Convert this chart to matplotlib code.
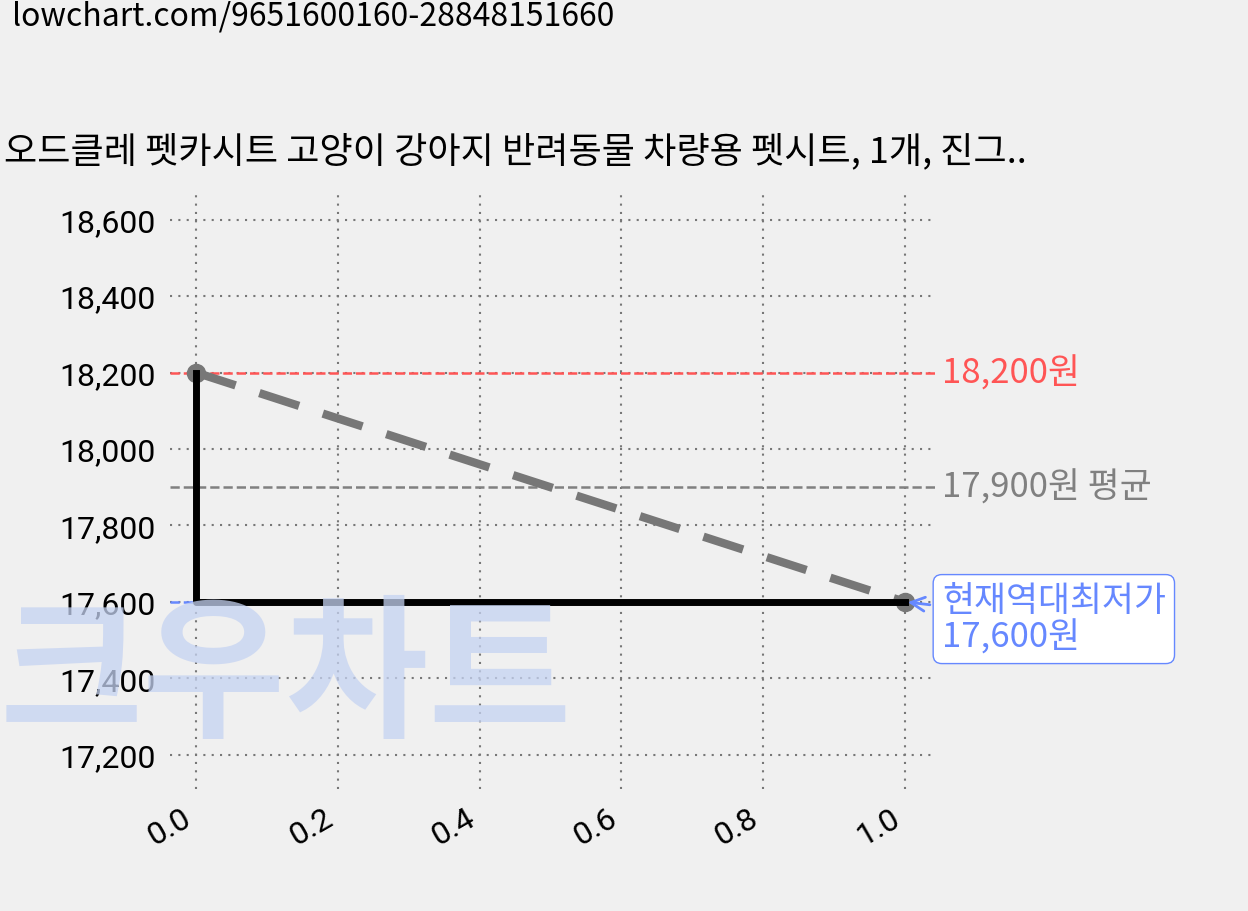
import matplotlib
matplotlib.use("Agg")
import matplotlib.pyplot as plt

plt.rcParams['font.family'] = ['Noto Sans CJK KR', 'DejaVu Sans']

# data
x_vals = [0.0, 1.0]
prices = [18200, 17600]
max_price = 18200
avg_price = 17900
min_price = 17600
title = "오드클레 펫카시트 고양이 강아지 반려동물 차량용 펫시트, 1개, 진그.."
url = "lowchart.com/9651600160-28848151660"
yticks = [17200, 17400, 17600, 17800, 18000, 18200, 18400, 18600]
xticks = [0.0, 0.2, 0.4, 0.6, 0.8, 1.0]

bg = '#f0f0f0'
fig = plt.figure(figsize=(12.48, 9.12), dpi=100, facecolor=bg)

# watermark behind the axes
fig.text(0.0, 0.255, "크우차트", fontsize=112, fontweight='black', color='#c5d3f2',
         alpha=0.75, style='italic', ha='left', va='center', zorder=0)

ax = fig.add_axes([0.136, 0.134, 0.613, 0.658], facecolor='none')
ax.set_xlim(-0.037, 1.042)
ax.set_ylim(17111, 18681)

ax.grid(True, linestyle=(0, (1, 3)), color='#777777', linewidth=1.5)
for s in ax.spines.values():
    s.set_visible(False)

ax.axhline(max_price, color='#ff5555', linestyle='--', linewidth=1.8, zorder=2)
ax.axhline(avg_price, color='#808080', linestyle='--', linewidth=1.8, zorder=2)
ax.plot([-0.037, 0.0], [min_price, min_price], color='#6688ff', linestyle='--', linewidth=1.8, zorder=2)

ax.plot(x_vals, prices, color='#777777', linestyle=(0, (5, 3)), linewidth=6,
        marker='o', markersize=13, zorder=3)
ax.plot([x_vals[0], x_vals[0], x_vals[1]], [prices[0], min_price, prices[1]],
        color='black', linewidth=5, zorder=4)

ax.text(1.01, max_price, f"{max_price:,}원", color='#ff5555', fontsize=25,
        va='center', ha='left', transform=ax.get_yaxis_transform())
ax.text(1.01, avg_price, f"{avg_price:,}원 평균", color='#808080', fontsize=25,
        va='center', ha='left', transform=ax.get_yaxis_transform())
ax.annotate(f"현재역대최저가\n{min_price:,}원", xy=(1.0, min_price), xytext=(1.052, min_price - 45),
            fontsize=25, color='#6688ff', va='center', ha='left', linespacing=1.05,
            bbox=dict(boxstyle='round,pad=0.25', fc='white', ec='#6688ff'),
            arrowprops=dict(arrowstyle='->', color='#6688ff', lw=2), annotation_clip=False)

ax.set_yticks(yticks)
ax.set_yticklabels([f"{v:,}" for v in yticks], family=['Roboto', 'DejaVu Sans'])
ax.set_xticks(xticks)
ax.set_xticklabels([f"{v:.1f}" for v in xticks], rotation=30, ha='right', family=['Roboto', 'DejaVu Sans'])
ax.tick_params(axis='both', labelsize=23, length=0, pad=10)

fig.text(0.003, 0.833, title, fontsize=26, ha='left', va='center')
fig.text(0.01, 0.982, url, fontsize=23, ha='left', va='center')

fig.savefig("out.png", dpi=100, facecolor=bg)
